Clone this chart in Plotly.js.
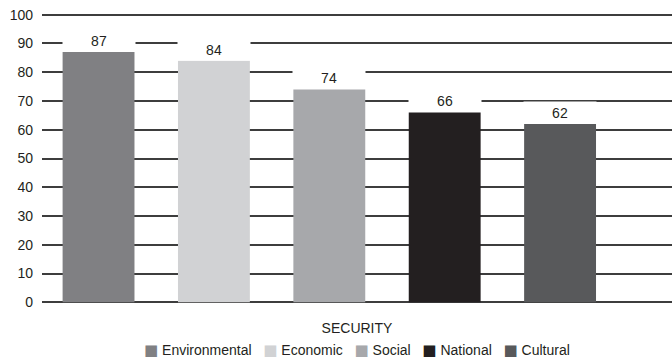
<!DOCTYPE html>
<html>
<head>
<meta charset="utf-8">
<script src="https://cdn.plot.ly/plotly-3.0.1.min.js"></script>
<style>
  html, body { margin: 0; padding: 0; background: #fff; }
  #chart { width: 672px; height: 358px; }
</style>
</head>
<body>
<div id="chart"></div>
<script>
// Security dimensions and their scores
const categories = ['Environmental', 'Economic', 'Social', 'National', 'Cultural'];
const scores = [87, 84, 74, 66, 62];
const barColors = ['#808083', '#d1d2d4', '#a7a8ab', '#231f20', '#58595b'];
const yTicks = [0, 10, 20, 30, 40, 50, 60, 70, 80, 90, 100];
const axisTitle = 'SECURITY';

const textColor = '#231f20';
const baseFont = { family: 'Liberation Sans, Arial, sans-serif', size: 14, color: textColor };

const trace = {
  type: 'bar',
  x: categories,
  y: scores,
  marker: { color: barColors, line: { width: 0 } },
  hoverinfo: 'x+y',
  showlegend: false
};

// Value labels sit in a white box on top of each bar, masking the grid behind them
const valueLabels = categories.map((c, i) => ({
  x: c,
  y: scores[i],
  xref: 'x',
  yref: 'y',
  text: String(scores[i]),
  showarrow: false,
  yanchor: 'bottom',
  xanchor: 'center',
  width: 72,
  height: 21,
  borderpad: 0,
  bgcolor: '#ffffff',
  font: baseFont
}));

// Horizontal key built from the same categories and colours
const keyText = categories
  .map((c, i) => `<span style="color:${barColors[i]};font-family:'DejaVu Sans';font-size:15px">■</span> ${c}`)
  .join('&#160;&#160;&#160;');

const keyLabel = {
  x: 0.5,
  y: -0.158,
  xref: 'paper',
  yref: 'paper',
  xanchor: 'center',
  yanchor: 'middle',
  showarrow: false,
  text: keyText,
  font: baseFont
};

const layout = {
  width: 672,
  height: 358,
  margin: { l: 42, r: 0, t: 13, b: 54 },
  paper_bgcolor: '#ffffff',
  plot_bgcolor: '#ffffff',
  font: baseFont,
  bargap: 0.377,
  barmode: 'overlay',
  showlegend: false,
  xaxis: {
    type: 'category',
    range: [-0.49, 4.97],
    showticklabels: false,
    ticks: '',
    showgrid: false,
    zeroline: false,
    showline: false,
    title: { text: axisTitle, font: baseFont, standoff: 19 }
  },
  yaxis: {
    range: [-0.6, 100.6],
    tickvals: yTicks,
    ticks: '',
    ticklabelstandoff: 8,
    showgrid: true,
    gridcolor: '#3d3d3d',
    gridwidth: 2,
    zeroline: false,
    showline: false,
    tickfont: baseFont
  },
  annotations: valueLabels.concat([keyLabel])
};

Plotly.newPlot('chart', [trace], layout, { displayModeBar: false, staticPlot: true });
</script>
</body>
</html>
